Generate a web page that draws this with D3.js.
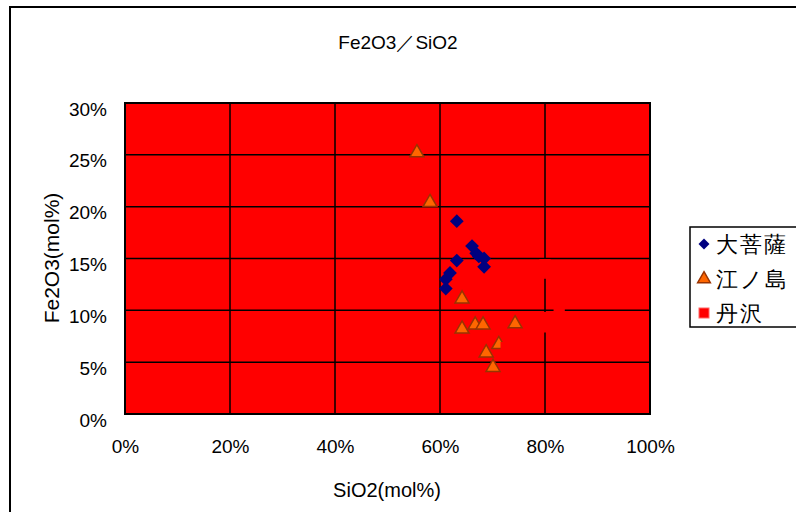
<!DOCTYPE html>
<html>
<head>
<meta charset="utf-8">
<script src="https://cdn.jsdelivr.net/npm/d3@7"></script>
<style>
  body { margin: 0; background: #fff; }
  text { font-family: "Liberation Sans", Arial, sans-serif; fill: #000; }
</style>
</head>
<body>
<div id="wrapper"></div>
<script>
// series: [SiO2 %, Fe2O3 %]
const daibosatsu = [
  [63.2, 18.6], [66.1, 16.2], [66.9, 15.5], [67.4, 15.2], [68.4, 15.0],
  [68.4, 14.2], [63.2, 14.8], [61.9, 13.6], [61.1, 13.0], [61.1, 12.1]
];
const enoshima = [
  [55.6, 25.2], [58.1, 20.4], [64.2, 11.1], [64.2, 8.2], [66.7, 8.6],
  [68.2, 8.6], [74.3, 8.7], [71.2, 6.7], [68.8, 5.9], [70.1, 4.5]
];
const tanzawa = [
  [80.0, 14.4], [80.2, 13.6], [82.7, 10.0], [80.0, 9.3], [80.2, 8.4], [72.6, 6.4]
];
const xTicks = [0, 20, 40, 60, 80, 100];
const yTicks = [0, 5, 10, 15, 20, 25, 30];
const seriesNames = ["大菩薩", "江ノ島", "丹沢"];

const xAcc = d => d[0];
const yAcc = d => d[1];

let dimensions = {
  width: 796,
  height: 512,
  plot: { left: 125, right: 650, top: 103, bottom: 414 }
};

let wrapper = d3.select("#wrapper").append("svg")
  .attr("width", dimensions.width)
  .attr("height", dimensions.height);

// chart frame
wrapper.append("rect")
  .attr("x", 10).attr("y", 7)
  .attr("width", 800).attr("height", 520)
  .attr("fill", "#fff").attr("stroke", "#000").attr("stroke-width", 2);

let xScale = d3.scaleLinear().domain([0, 100])
  .range([dimensions.plot.left, dimensions.plot.right]);
let yScale = d3.scaleLinear().domain([0, 30])
  .range([dimensions.plot.bottom, dimensions.plot.top]);

// plot area
wrapper.append("rect")
  .attr("x", dimensions.plot.left).attr("y", dimensions.plot.top)
  .attr("width", dimensions.plot.right - dimensions.plot.left)
  .attr("height", dimensions.plot.bottom - dimensions.plot.top)
  .attr("fill", "#ff0000");

// grid
let grid = wrapper.append("g").attr("stroke", "#000").attr("stroke-width", 1.5);
grid.selectAll(".gx").data(xTicks.slice(1, -1)).enter().append("line")
  .attr("x1", d => xScale(d)).attr("x2", d => xScale(d))
  .attr("y1", dimensions.plot.top).attr("y2", dimensions.plot.bottom);
grid.selectAll(".gy").data(yTicks.slice(1, -1)).enter().append("line")
  .attr("y1", d => yScale(d)).attr("y2", d => yScale(d))
  .attr("x1", dimensions.plot.left).attr("x2", dimensions.plot.right);

wrapper.append("rect")
  .attr("x", dimensions.plot.left).attr("y", dimensions.plot.top)
  .attr("width", dimensions.plot.right - dimensions.plot.left)
  .attr("height", dimensions.plot.bottom - dimensions.plot.top)
  .attr("fill", "none").attr("stroke", "#000").attr("stroke-width", 2);

// axes (labels only)
let xAxisGen = d3.axisBottom(xScale).tickValues(xTicks).tickSize(0).tickPadding(26)
  .tickFormat(d => d + "%");
let yAxisGen = d3.axisLeft(yScale).tickValues(yTicks).tickSize(0).tickPadding(18)
  .tickFormat(d => d + "%");
const axisX = wrapper.append("g")
  .attr("transform", `translate(0,${dimensions.plot.bottom})`).call(xAxisGen);
const axisY = wrapper.append("g")
  .attr("transform", `translate(${dimensions.plot.left},6)`).call(yAxisGen);
[axisX, axisY].forEach(a => {
  a.select(".domain").remove();
  a.selectAll("text").attr("font-size", 19)
    .attr("font-family", "'Liberation Sans', Arial, sans-serif").attr("fill", "#000");
});

// markers
const diamond = d3.symbol().type(d3.symbolSquare).size(95);
const triangle = d3.symbol().type(d3.symbolTriangle).size(85);
const square = d3.symbol().type(d3.symbolSquare).size(95);

wrapper.append("g").selectAll("path").data(daibosatsu).enter().append("path")
  .attr("d", diamond)
  .attr("transform", d => `translate(${xScale(xAcc(d))},${yScale(yAcc(d))}) rotate(45)`)
  .attr("fill", "#000080");

wrapper.append("g").selectAll("path").data(enoshima).enter().append("path")
  .attr("d", triangle)
  .attr("transform", d => `translate(${xScale(xAcc(d))},${yScale(yAcc(d))})`)
  .attr("fill", "#ff6600").attr("stroke", "#993300").attr("stroke-width", 1.5);

wrapper.append("g").selectAll("path").data(tanzawa).enter().append("path")
  .attr("d", square)
  .attr("transform", d => `translate(${xScale(xAcc(d))},${yScale(yAcc(d))})`)
  .attr("fill", "#ff0000").attr("stroke", "#ff0000").attr("stroke-width", 1.5);

// title & axis titles
wrapper.append("text").attr("x", 398).attr("y", 49)
  .attr("text-anchor", "middle").attr("font-size", 19).text("Fe2O3／SiO2");
wrapper.append("text").attr("x", 387).attr("y", 497)
  .attr("text-anchor", "middle").attr("font-size", 20).text("SiO2(mol%)");
wrapper.append("text")
  .attr("transform", "translate(59,258) rotate(-90)")
  .attr("text-anchor", "middle").attr("font-size", 21).text("Fe2O3(mol%)");

// legend
let legend = wrapper.append("g");
legend.append("rect").attr("x", 690).attr("y", 227)
  .attr("width", 120).attr("height", 100)
  .attr("fill", "#fff").attr("stroke", "#000").attr("stroke-width", 1.5);
const legendY = [244, 279, 313];
const legendSym = [
  g => g.append("path").attr("d", d3.symbol().type(d3.symbolSquare).size(60))
    .attr("transform", "rotate(45)").attr("fill", "#000080"),
  g => g.append("path").attr("d", d3.symbol().type(d3.symbolTriangle).size(70))
    .attr("fill", "#ff6600").attr("stroke", "#993300").attr("stroke-width", 1.5),
  g => g.append("rect").attr("x", -5).attr("y", -5).attr("width", 10).attr("height", 10)
    .attr("fill", "#ff0000").attr("stroke", "#ff6666").attr("stroke-width", 1)
];
seriesNames.forEach((name, i) => {
  let item = legend.append("g").attr("transform", `translate(704,${legendY[i]})`);
  legendSym[i](item);
  item.append("text").attr("x", 12).attr("y", 8)
    .attr("font-size", 22).attr("letter-spacing", 2)
    .attr("font-family", "'Noto Sans CJK JP', sans-serif")
    .text(name);
});
</script>
</body>
</html>
